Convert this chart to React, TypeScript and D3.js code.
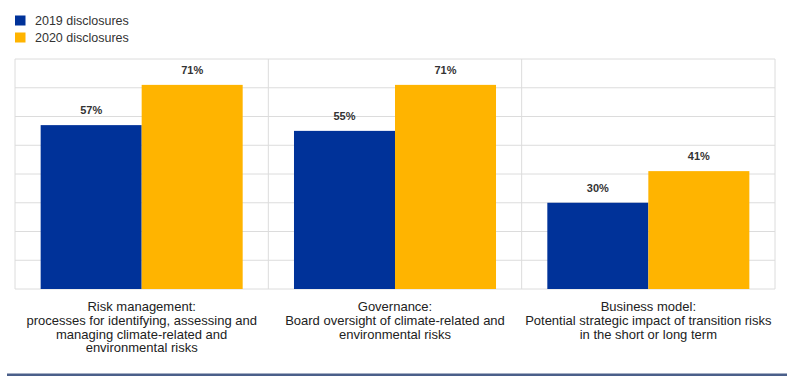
import React from "react";
import * as d3 from "d3";

const categories = [
  ["Risk management:", "processes for identifying, assessing and", "managing climate-related and", "environmental risks"],
  ["Governance:", "Board oversight of climate-related and", "environmental risks"],
  ["Business model:", "Potential strategic impact of transition risks", "in the short or long term"],
];
const categoryKeys = ["risk", "gov", "biz"];
const seriesNames = ["2019 disclosures", "2020 disclosures"];
const values2019 = [57, 55, 30];
const values2020 = [71, 71, 41];
const colors = ["#003299", "#FFB400"];
const yTicks = [0, 10, 20, 30, 40, 50, 60, 70, 80];

const W = 787;
const H = 376;
const left = 15;
const right = 775;
const top = 59;
const bottom = 289;

export default function App() {
  const x0 = d3.scaleBand<string>().domain(categoryKeys).range([left, right]).padding(0);
  const x1 = d3
    .scaleBand<string>()
    .domain(seriesNames)
    .range([0, x0.bandwidth()])
    .paddingInner(0)
    .paddingOuter(0.254);
  const y = d3.scaleLinear().domain([0, 80]).range([bottom, top]);
  const series = [values2019, values2020];
  const font = "'Liberation Sans', Arial, sans-serif";

  return (
    <svg
      width={W}
      height={H}
      style={{ position: "absolute", left: 0, top: 0, background: "#fff" }}
    >
      {/* legend */}
      {seriesNames.map((s, i) => (
        <g key={s} transform={`translate(15, ${15.5 + i * 17})`}>
          <rect width={10.5} height={10} fill={colors[i]} />
          <text x={20} y={9.5} fontFamily={font} fontSize={12.5} fill="#333">
            {s}
          </text>
        </g>
      ))}
      {/* horizontal grid */}
      {yTicks.map((t) => (
        <line
          key={t}
          x1={left}
          x2={right}
          y1={y(t)}
          y2={y(t)}
          stroke="#dcdcdc"
          strokeWidth={1}
        />
      ))}
      {/* vertical dividers */}
      {categoryKeys.map((c) => (
        <line
          key={c}
          x1={x0(c)!}
          x2={x0(c)!}
          y1={top}
          y2={bottom}
          stroke="#dcdcdc"
        />
      ))}
      <line x1={right} x2={right} y1={top} y2={bottom} stroke="#dcdcdc" />
      {/* bars */}
      {categoryKeys.map((c, ci) => (
        <g key={c} transform={`translate(${x0(c)}, 0)`}>
          {seriesNames.map((s, si) => {
            const v = series[si][ci];
            const bx = x1(s)!;
            return (
              <g key={s}>
                <rect
                  x={bx}
                  y={y(v)}
                  width={x1.bandwidth()}
                  height={y(0) - y(v)}
                  fill={colors[si]}
                />
                <text
                  x={bx + x1.bandwidth() / 2}
                  y={y(v) - 11}
                  textAnchor="middle"
                  fontFamily={font}
                  fontWeight="bold"
                  fontSize={11}
                  fill="#333"
                >
                  {v}%
                </text>
              </g>
            );
          })}
        </g>
      ))}
      {/* category labels */}
      {categoryKeys.map((c, ci) => (
        <text
          key={c}
          x={x0(c)! + x0.bandwidth() / 2}
          y={311}
          textAnchor="middle"
          fontFamily={font}
          fontSize={13}
          fill="#222"
        >
          {categories[ci].map((line, li) => (
            <tspan key={li} x={x0(c)! + x0.bandwidth() / 2} dy={li === 0 ? 0 : 13.8}>
              {line}
            </tspan>
          ))}
        </text>
      ))}
      {/* bottom rule */}
      <rect x={7} y={373.5} width={780} height={2.5} fill="#4a5f8a" />
    </svg>
  );
}
